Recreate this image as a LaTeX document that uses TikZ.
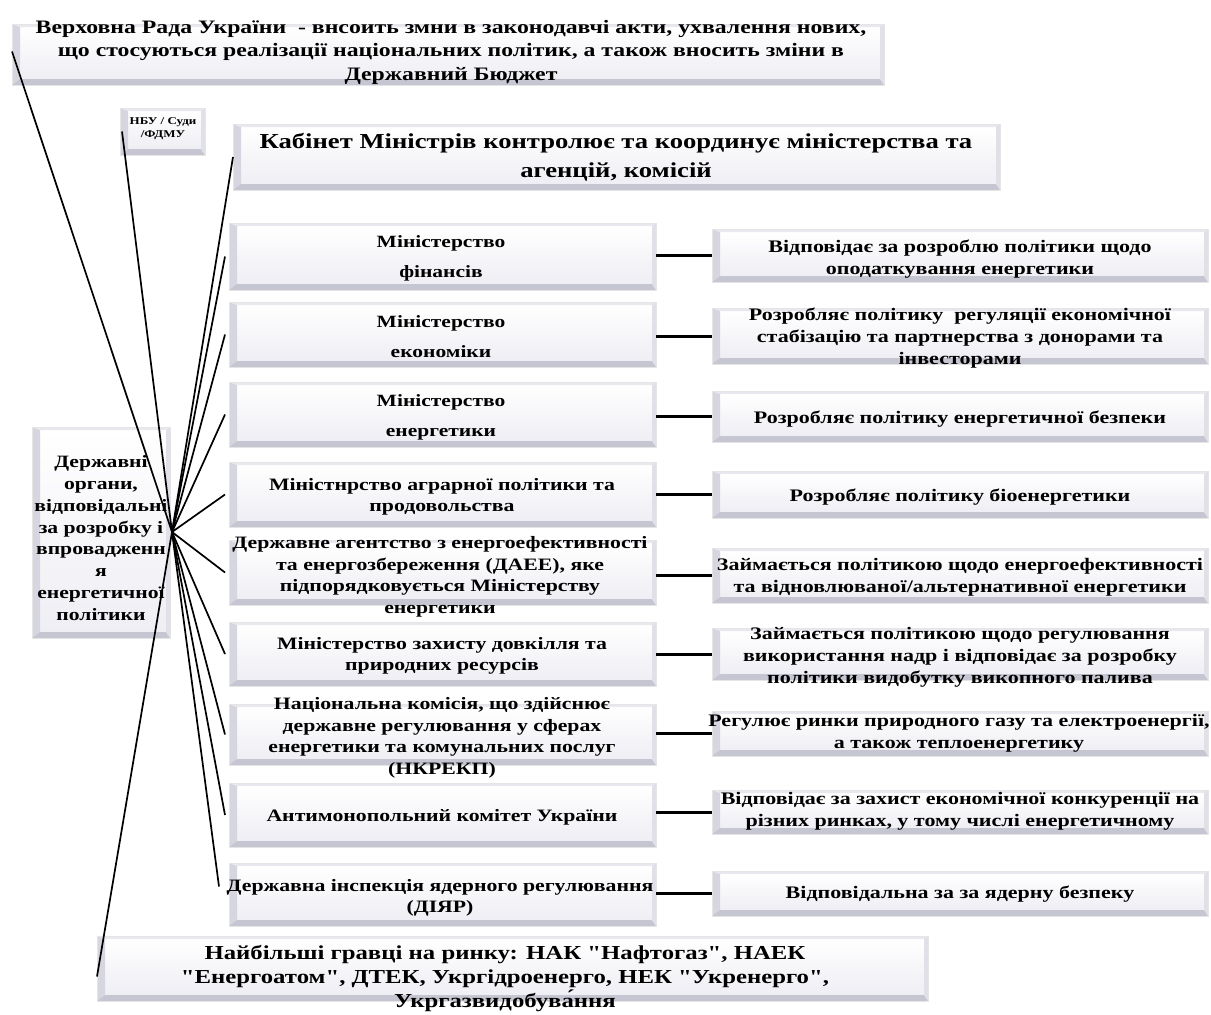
\documentclass[tikz,border=0pt]{standalone}
\usepackage{fontspec}
\setmainfont{Liberation Serif}[FakeStretch=1.25, Ligatures=TeXOff]
\definecolor{bvface}{RGB}{236,236,242}
\definecolor{bvface2}{RGB}{238,238,244}
\definecolor{bvleft}{RGB}{214,214,224}
\definecolor{bvbot}{RGB}{198,198,210}
\definecolor{bvright}{RGB}{224,224,232}
\definecolor{bvtop}{RGB}{232,232,238}
\newcommand\ft[2]{\fontsize{#1}{#2}\selectfont\bfseries}
\newcommand\mkbox[5]{%
 \pgfmathsetmacro\bxw{#4-#2}\pgfmathsetmacro\bxh{#5-#3}%
 \pgfmathsetmacro\bxx{(#2+#4)/2}\pgfmathsetmacro\bxy{(#3+#5)/2}%
 \node[bx,minimum width=\bxw pt,minimum height=\bxh pt] (#1) at (\bxx,\bxy) {};}
\tikzset{
 bx/.style={inner sep=0pt, outer sep=0pt, draw=gray!20, line width=0.5pt,
  path picture={
   \path (path picture bounding box.south west) coordinate (p1)
         (path picture bounding box.north east) coordinate (p3);
   \path (p1 -| p3) coordinate (p2) (p1 |- p3) coordinate (p4);
   \fill[bvface] (p1) rectangle (p3);
   \shade[top color=white, bottom color=bvface2] ([shift={(8pt,6pt)}]p1) rectangle ([shift={(-4pt,-3pt)}]p3);
   \fill[bvleft] (p4) -- ([shift={(8pt,-3pt)}]p4) -- ([shift={(8pt,6pt)}]p1) -- (p1) -- cycle;
   \fill[bvbot] (p1) -- ([shift={(8pt,6pt)}]p1) -- ([shift={(-4pt,6pt)}]p2) -- (p2) -- cycle;
   \fill[bvright] (p2) -- ([shift={(-4pt,6pt)}]p2) -- ([shift={(-4pt,-3pt)}]p3) -- (p3) -- cycle;
   \fill[bvtop] (p3) -- ([shift={(-4pt,-3pt)}]p3) -- ([shift={(8pt,-3pt)}]p4) -- (p4) -- cycle;
  }},
 tx/.style={align=center, inner sep=0pt, text=black},
 spoke/.style={line width=1.7pt, black},
 link/.style={line width=3pt, black},
}
\begin{document}
\begin{tikzpicture}[x=1pt,y=-1pt]
\useasboundingbox[fill=white] (0,0) rectangle (1211,1015);

% ---------- boxes ----------
\mkbox{rada}{12}{24}{884}{85}
\mkbox{nbu}{120}{108}{205}{155}
\mkbox{kab}{233}{124}{1000}{190}
\mkbox{org}{32}{427}{170}{638}

\mkbox{fin}{229}{223}{656}{290}
\mkbox{econ}{229}{302}{656}{367}
\mkbox{energ}{229}{382}{656}{447}
\mkbox{agr}{229}{462}{656}{527}
\mkbox{daee}{229}{540}{656}{605}
\mkbox{dovk}{229}{622}{656}{686}
\mkbox{nkr}{229}{704}{656}{765}
\mkbox{anti}{229}{783}{656}{847}
\mkbox{diyar}{229}{863}{656}{926}
\mkbox{big}{97}{936}{928}{1001}

\mkbox{finr}{712}{229}{1208}{282}
\mkbox{econr}{712}{308}{1208}{364}
\mkbox{energr}{712}{391}{1208}{442}
\mkbox{agrr}{712}{471}{1208}{518}
\mkbox{daeer}{712}{548}{1208}{603}
\mkbox{dovkr}{712}{628}{1208}{680}
\mkbox{nkrr}{712}{711}{1208}{756}
\mkbox{antir}{712}{790}{1208}{834}
\mkbox{diyarr}{712}{871}{1208}{916}

% ---------- texts ----------
\node[tx,font=\ft{19}{23.5}] (radat) at (451,52) {Верховна Рада України \ - внсоить змни в законодавчі акти, ухвалення нових,\\ що стосуються реалізації національних політик, а також вносить зміни в\\ Державний Бюджет};
\node[tx,font=\ft{10.4}{13}] (nbut) at (163,129) {НБУ / Суди\\ /ФДМУ};
\node[tx,font=\ft{21.3}{29}] (kabt) at (616,157) {Кабінет Міністрів контролює та координує міністерства та\\ агенцій, комісій};
\node[tx,font=\ft{17.3}{21.8}] (orgt) at (101,538) {Державні\\ органи,\\ відповідальні\\ за розробку і\\ впровадженн\\ я\\ енергетичної\\ політики};

\node[tx,font=\ft{17.2}{30}] (fint) at (441,258) {Міністерство\\ фінансів};
\node[tx,font=\ft{17.2}{30}] (econt) at (441,337) {Міністерство\\ економіки};
\node[tx,font=\ft{17.2}{30}] (energt) at (441,417) {Міністерство\\ енергетики};
\node[tx,font=\ft{17.4}{21.5}] (agrt) at (442,497) {Міністнрство аграрної політики та\\ продовольства};
\node[tx,font=\ft{17.4}{21.5}] (daeet) at (440,577) {Державне агентство з енергоефективності\\ та енергозбереження (ДАЕЕ), яке\\ підпорядковується Міністерству\\ енергетики};
\node[tx,font=\ft{17.4}{21.5}] (dovkt) at (442,656) {Міністерство захисту довкілля та\\ природних ресурсів};
\node[tx,font=\ft{17.4}{21.5}] (nkrt) at (442,738) {Національна комісія, що здійснює\\ державне регулювання у сферах\\ енергетики та комунальних послуг\\ (НКРЕКП)};
\node[tx,font=\ft{17.4}{21.5}] (antit) at (442,817) {Антимонопольний комітет України};
\node[tx,font=\ft{17.4}{21.5}] (diyart) at (440,898) {Державна інспекція ядерного регулювання\\ (ДІЯР)};
\node[tx,font=\ft{19.8}{24}] (bigt) at (505,979) {Найбільші гравці на ринку: НАК "Нафтогаз", НАЕК\\ "Енергоатом", ДТЕК, Укргідроенерго, НЕК "Укренерго",\\ Укргазвидобува́ння};

\node[tx,font=\ft{17.6}{22}] (finrt) at (960,259) {Відповідає за розроблю політики щодо\\ оподаткування енергетики};
\node[tx,font=\ft{17.6}{22}] (econrt) at (960,338) {Розробляє політику \ регуляції економічної\\ стабізацію та партнерства з донорами та\\ інвесторами};
\node[tx,font=\ft{17.6}{22}] (energrt) at (960,419) {Розробляє політику енергетичної безпеки};
\node[tx,font=\ft{17.6}{22}] (agrrt) at (960,497) {Розробляє політику біоенергетики};
\node[tx,font=\ft{17.6}{22}] (daeert) at (960,577) {Займається політикою щодо енергоефективності\\ та відновлюваної/альтернативної енергетики};
\node[tx,font=\ft{17.6}{22}] (dovkrt) at (960,657) {Займається політикою щодо регулювання\\ використання надр і відповідає за розробку\\ політики видобутку викопного палива};
\node[tx,font=\ft{17.6}{22}] (nkrrt) at (959,733) {Регулює ринки природного газу та електроенергії,\\ а також теплоенергетику};
\node[tx,font=\ft{17.6}{22}] (antirt) at (960,811) {Відповідає за захист економічної конкуренції на\\ різних ринках, у тому числі енергетичному};
\node[tx,font=\ft{17.6}{22}] (diyarrt) at (960,894) {Відповідальна за за ядерну безпеку};

% ---------- spokes ----------
\coordinate (hub) at (172,532);
\draw[spoke] (hub) -- ([yshift=3pt]rada.west);
\draw[spoke] (hub) -- ([xshift=2pt]nbu.west);
\draw[spoke] (hub) -- (kab.west);
\foreach \n in {fin,econ,energ,agr,daee,dovk,nkr,anti}
  \draw[spoke] (hub) -- ([xshift=-4pt]\n.west);
\draw[spoke] (hub) -- ([xshift=-10pt,yshift=8pt]diyar.west);
\draw[spoke] (hub) -- ([yshift=-8pt]big.west);

% ---------- links ----------
\foreach \a/\b in {fin/finr,econ/econr,energ/energr,agr/agrr,daee/daeer,dovk/dovkr,nkr/nkrr,anti/antir,diyar/diyarr}
  \draw[link] (\a.east |- \b.west) -- (\b.west);
\end{tikzpicture}
\end{document}
